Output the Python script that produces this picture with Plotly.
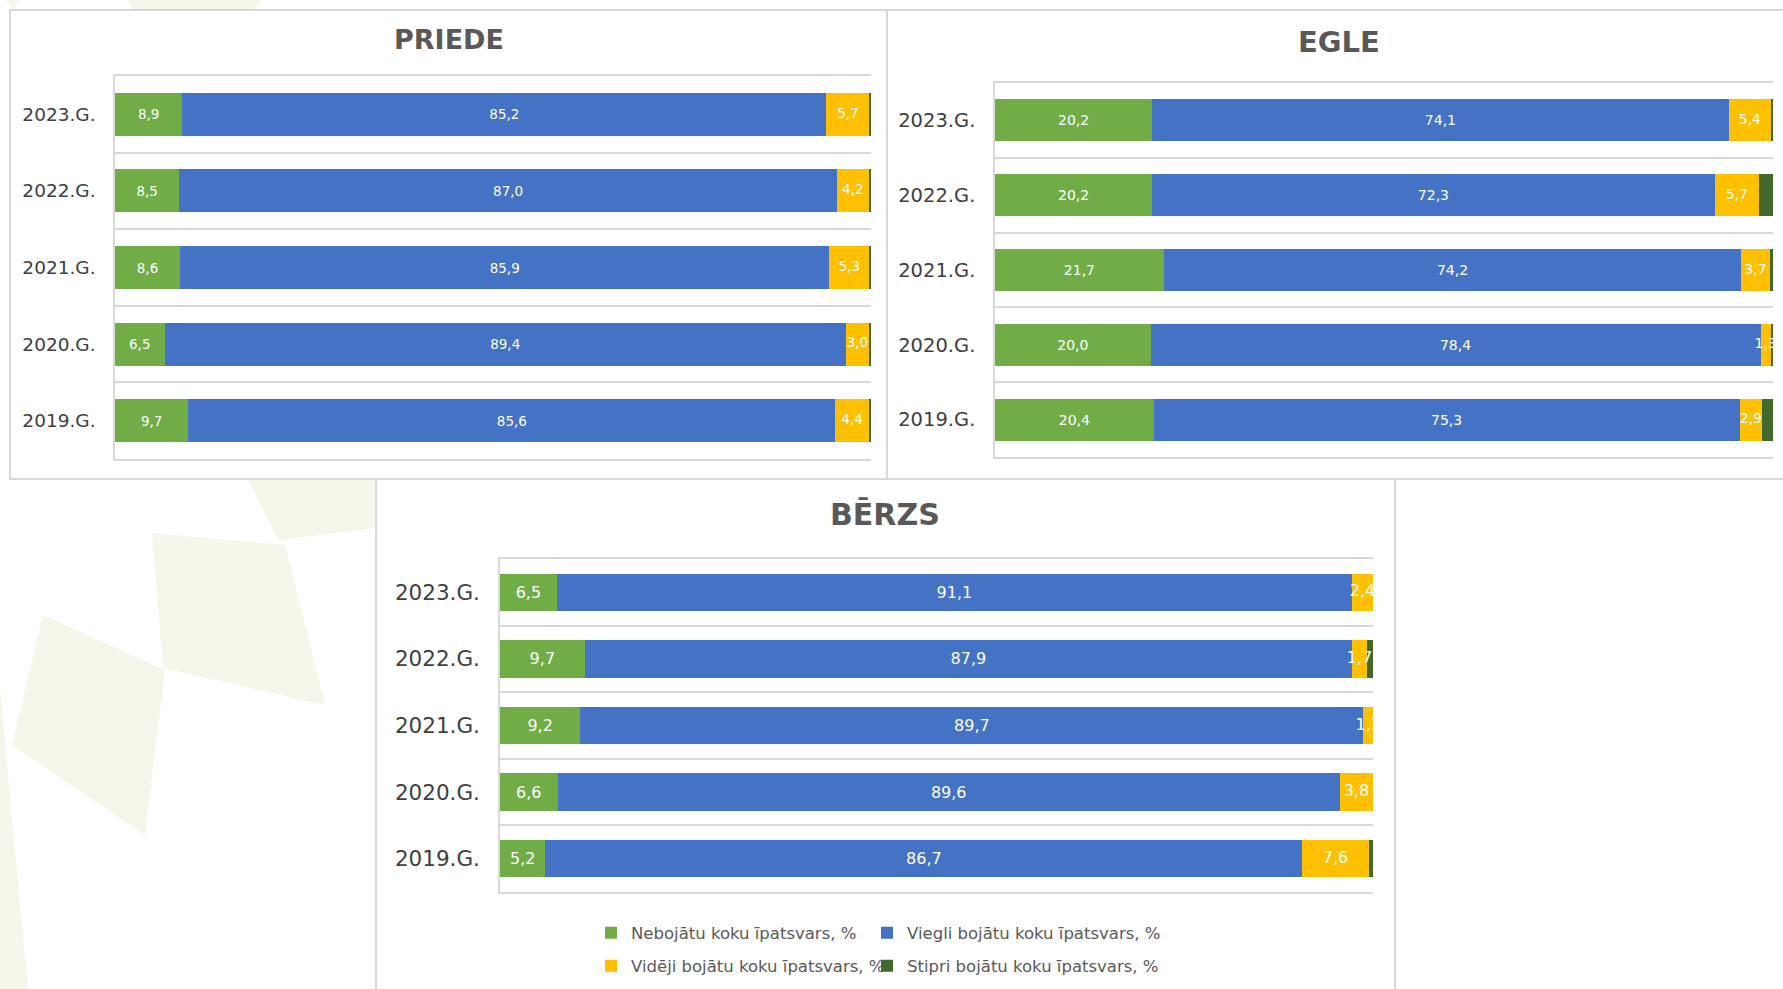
import plotly.graph_objects as go

# ---------------- data ----------------
years = ["2023.G.", "2022.G.", "2021.G.", "2020.G.", "2019.G."]

series_names = [
    "Nebojātu koku īpatsvars, %",
    "Viegli bojātu koku īpatsvars, %",
    "Vidēji bojātu koku īpatsvars, %",
    "Stipri bojātu koku īpatsvars, %",
]

priede_nebojatu = [8.9, 8.5, 8.6, 6.5, 9.7]
priede_viegli = [85.2, 87.0, 85.9, 89.4, 85.6]
priede_videji = [5.7, 4.2, 5.3, 3.0, 4.4]
priede_stipri = [0.2, 0.3, 0.2, 0.3, 0.3]

egle_nebojatu = [20.2, 20.2, 21.7, 20.0, 20.4]
egle_viegli = [74.1, 72.3, 74.2, 78.4, 75.3]
egle_videji = [5.4, 5.7, 3.7, 1.3, 2.9]
egle_stipri = [0.3, 1.8, 0.4, 0.3, 1.4]

berzs_nebojatu = [6.5, 9.7, 9.2, 6.6, 5.2]
berzs_viegli = [91.1, 87.9, 89.7, 89.6, 86.7]
berzs_videji = [2.4, 1.7, 1.1, 3.8, 7.6]
berzs_stipri = [0.0, 0.7, 0.0, 0.0, 0.5]

titles = ["PRIEDE", "EGLE", "BĒRZS"]

# ---------------- styling ----------------
W, H = 1783, 989
colors = ["#70AD47", "#4472C4", "#FFC000", "#43682B"]
GRID = "#d9d9d9"
FONT = "DejaVu Sans"


def fx(v):
    return v / W


def fy(v):
    return 1 - v / H


def fmt(vals):
    return [f"{v:.1f}".replace(".", ",") for v in vals]


panels = [
    dict(data=[priede_nebojatu, priede_viegli, priede_videji, priede_stipri],
         dom_x=(115, 871), dom_y=(76, 459), tick=18.5, val=13.5,
         title=(449, 39, 27), box=(10, 10, 887, 479)),
    dict(data=[egle_nebojatu, egle_viegli, egle_videji, egle_stipri],
         dom_x=(995, 1773), dom_y=(83, 457), tick=19.5, val=14,
         title=(1339, 42, 29), box=(887, 10, 1795, 479)),
    dict(data=[berzs_nebojatu, berzs_viegli, berzs_videji, berzs_stipri],
         dom_x=(500, 1373), dom_y=(559, 892), tick=21.5, val=16,
         title=(885, 514, 30), box=(376, 479, 1395, 1005)),
]

fig = go.Figure()
layout = dict(
    width=W, height=H,
    margin=dict(l=0, r=0, t=0, b=0),
    paper_bgcolor="white",
    plot_bgcolor="rgba(0,0,0,0)",
    barmode="stack",
    barnorm="percent",
    bargap=0.44,
    showlegend=True,
    font=dict(family=FONT, color="#595959"),
)

shapes = []
# faint decorative background shapes of the slide
bg = "#f6f7ea"
for pts in [
    [(247, 478), (376, 478), (376, 528), (278, 540)],
    [(152, 533), (285, 545), (325, 705), (163, 668)],
    [(43, 615), (165, 670), (145, 835), (12, 745)],
    [(0, 687), (28, 989), (0, 989)],
    [(128, 0), (262, 0), (256, 9), (133, 9)],
    [(6, 0), (20, 0), (13, 8)],
]:
    path = "M " + " L ".join(f"{fx(x)},{fy(y)}" for x, y in pts) + " Z"
    shapes.append(dict(type="path", xref="paper", yref="paper", path=path,
                       fillcolor=bg, line=dict(width=0), layer="below"))

annotations = []

for i, p in enumerate(panels):
    sfx = "" if i == 0 else str(i + 1)
    xa, ya = "x" + sfx, "y" + sfx
    x0, y0, x1, y1 = p["box"]
    shapes.append(dict(type="rect", xref="paper", yref="paper",
                       x0=fx(x0), x1=fx(x1), y0=fy(y1), y1=fy(y0),
                       fillcolor="white", line=dict(color=GRID, width=2),
                       layer="below"))
    for k, (name, col, vals) in enumerate(zip(series_names, colors, p["data"])):
        is_last = (i == 2)
        fig.add_trace(go.Bar(
            x=vals, y=years, orientation="h", name=name,
            marker=dict(color=col, line=dict(width=0)),
            text=fmt(vals) if k < 2 else None,
            textposition="inside" if k < 2 else "none",
            insidetextanchor="middle",
            textangle=0,
            constraintext="none",
            textfont=dict(family=FONT, size=p["val"], color="white"),
            xaxis=xa, yaxis=ya,
            showlegend=is_last,
            legend="legend" if k < 2 else "legend2",
            legendgroup=name,
            legendwidth=231 if k in (0, 2) else 262,
            hoverinfo="x+y+name",
        ))
    # labels of the "vidēji" segments drawn on top of all bars (as in Excel)
    neb, vie, vid, sti = p["data"]
    centers = [
        (a + b + c / 2) / (a + b + c + d) * 100
        for a, b, c, d in zip(neb, vie, vid, sti)
    ]
    fig.add_trace(go.Scatter(
        x=centers, y=years, mode="text", text=fmt(vid),
        textposition="middle center",
        textfont=dict(family=FONT, size=p["val"], color="white"),
        xaxis=xa, yaxis=ya, showlegend=False, hoverinfo="skip",
    ))
    layout["xaxis" + sfx] = dict(
        domain=[fx(p["dom_x"][0]), fx(p["dom_x"][1])],
        anchor=ya, range=[0, 100], showgrid=False, zeroline=False,
        showticklabels=False, showline=True, mirror=True,
        linecolor=GRID, linewidth=2, fixedrange=True,
    )
    layout["yaxis" + sfx] = dict(
        domain=[fy(p["dom_y"][1]), fy(p["dom_y"][0])],
        anchor=xa, type="category", categoryorder="array",
        categoryarray=years, range=[4.5, -0.5],
        tickson="boundaries", ticks="", showgrid=True, gridcolor=GRID,
        gridwidth=2, showline=True, linecolor=GRID, linewidth=1.5,
        ticklabelstandoff=14,
        tickfont=dict(family=FONT, size=p["tick"], color="#404040"),
        fixedrange=True,
    )
    tx, ty, ts = p["title"]
    annotations.append(dict(
        text=f"<b>{titles[i]}</b>", xref="paper", yref="paper",
        x=fx(tx), y=fy(ty), xanchor="center", yanchor="middle",
        showarrow=False, font=dict(family=FONT, size=ts, color="#595959"),
    ))

legend_common = dict(
    orientation="h", xanchor="left", yanchor="middle",
    font=dict(family=FONT, size=16.5, color="#595959"),
    bgcolor="rgba(0,0,0,0)", itemwidth=30, traceorder="normal",
)
layout["legend"] = dict(legend_common, x=fx(591), y=fy(933))
layout["legend2"] = dict(legend_common, x=fx(591), y=fy(966))
layout["shapes"] = shapes
layout["annotations"] = annotations

fig.update_layout(**layout)
fig.write_html(
    "out.html",
    config={"displayModeBar": False},
    post_script="document.body.style.margin='0';document.body.style.overflow='hidden';",
)
